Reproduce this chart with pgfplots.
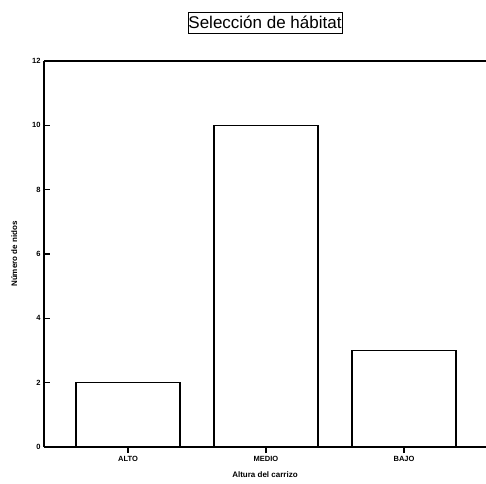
\documentclass[border=0pt]{standalone}
\usepackage{fontspec}
\setmainfont{Liberation Sans}
\usepackage{pgfplots}
\pgfplotsset{compat=1.18}
\begin{document}
\begin{tikzpicture}
	\useasboundingbox (-44pt,-36pt) rectangle (442pt,447pt);
	\begin{axis}[
		scale only axis,
		width=442pt, height=386pt,
		xmin=-0.609, xmax=2.594,
		ymin=0, ymax=12,
		ytick={0,2,...,12},
		xtick=data,
		xticklabels={ALTO,MEDIO,BAJO},
		axis x line*=box, axis y line*=left,
		xtick pos=bottom, ytick pos=left,
		tick align=inside,
		major tick length=6pt,
		axis line style={line width=1.2pt},
		every tick/.style={line width=1.2pt, black},
		/pgf/number format/assume math mode=true,
		tick label style={font=\fontsize{7.5}{9}\selectfont\bfseries},
		xlabel=Altura del carrizo,
		ylabel=Número de nidos,
		label style={font=\fontsize{8}{9}\selectfont\bfseries},
		xlabel style={yshift=-3pt},
		ylabel style={yshift=8pt},
		title=Selección de hábitat,
		title style={draw, line width=0.8pt, font=\fontsize{17}{20}\selectfont,
			inner xsep=0.5pt, inner ysep=4.5pt, at={(0.5,1)}, anchor=south, yshift=21pt},
		ybar, bar width=104pt,
	]
	\addplot[draw=black, fill=white, line width=1.3pt] coordinates {
		(0, 2)
		(1, 10)
		(2, 3)
	};
	\end{axis}
\end{tikzpicture}
\end{document}
